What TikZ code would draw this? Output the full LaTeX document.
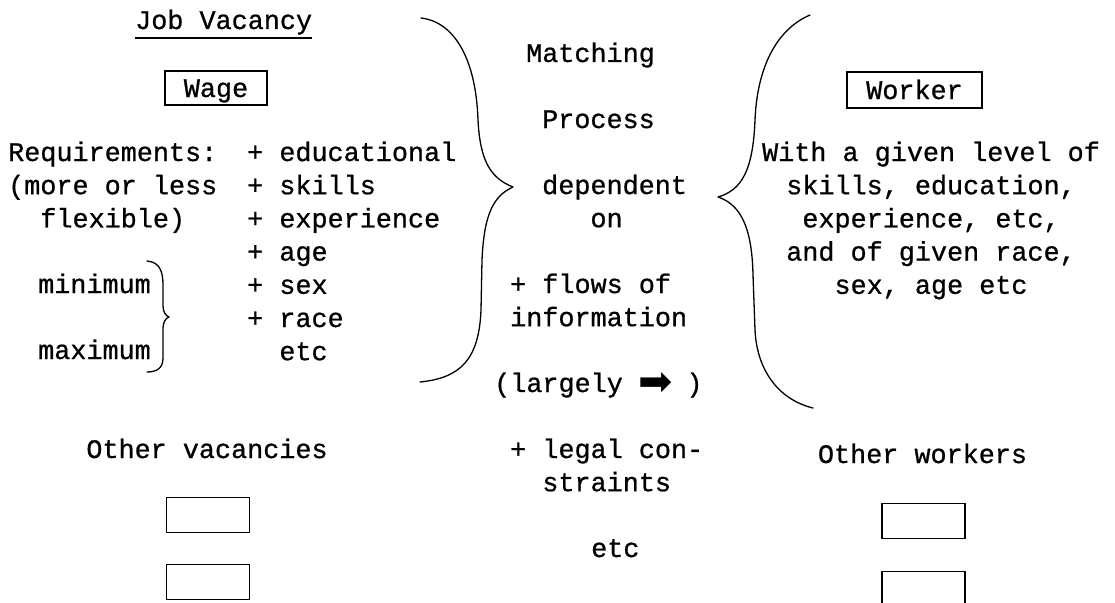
\documentclass[tikz,border=0pt]{standalone}
\usepackage{fontspec}
\setmainfont{Liberation Mono}[FakeBold=0.8]
\newfontfamily\arrowfont{DejaVu Sans}
\usetikzlibrary{positioning}

\begin{document}
\begin{tikzpicture}[
    x=1pt, y=-1pt,
    font=\fontsize{26.8}{33.2}\selectfont,
    txt/.style={inner sep=0pt, anchor=base west, align=left},
    ctxt/.style={inner sep=0pt, anchor=base, align=center},
    tag/.style={rectangle, draw=black, line width=1.3pt, inner sep=0pt, text height=18pt, text depth=0pt},
    blank/.style={rectangle, draw=black, line width=1.3pt, inner sep=0pt, minimum width=83pt, minimum height=35pt},
    brace/.style={line width=1.3pt, line cap=round, line join=round}
]
\clip (0,0) rectangle (1115,602);

% vacancy side (multi-line nodes sit on their last baseline)
\node[txt] (jobvac) at (135,29) {Job Vacancy};
\draw[line width=1.2pt] ([yshift=-9pt]jobvac.base west) -- ([yshift=-9pt]jobvac.base east);
\node[tag, minimum width=102pt, minimum height=34pt] (wage) at (216,88) {Wage};
\node[txt] (reqs) at (8,227.4) {Requirements:\\(more or less\\\phantom{xx}flexible)};
\node[txt] (items) at (247,360.2) {+ educational\\+ skills\\+ experience\\+ age\\+ sex\\+ race\\\phantom{+ }etc};
\node[txt] (minimum) at (38,293) {minimum};
\node[txt] (maximum) at (38,359) {maximum};
\draw[brace] (147,261) .. controls (160,262) and (163,272) .. (163,285) -- (163,306)
    .. controls (163,312) and (166,316) .. (169,317) .. controls (166,318) and (163,322) .. (163,328)
    -- (163,358) .. controls (163,368) and (157,372) .. (147,372);
\node[ctxt] (othervac) at (207,458) {Other vacancies};
\node[blank] (vac1) at (208,515) {};
\node[blank, below=31pt of vac1] (vac2) {};

% matching process
\draw[brace] (421,18) .. controls (455,22) and (476,60) .. (478,120)
    .. controls (480,160) and (490,178) .. (513,187) .. controls (493,196) and (484,215) .. (482,260)
    -- (481,310) .. controls (479,360) and (460,378) .. (420,382);
\node[txt] (matching) at (526,62) {Matching};
\node[txt] (process) at (542,128) {Process};
\node[txt] (depend) at (542,227.2) {dependent\\\phantom{dep}on};
\node[txt] (flows) at (510,326.2) {+ flows of\\information};
\node[txt] (largely) at (494,392) {(largely \raisebox{-3pt}{\arrowfont\fontsize{41}{41}\selectfont ➡}\kern-3pt{} )};
\node[txt] (legal) at (510,491.2) {+ legal con-\\\phantom{xx}straints};
\node[txt] (etc) at (591,557) {etc};
\draw[brace] (810,15) .. controls (775,30) and (757,70) .. (755,120)
    .. controls (753,170) and (742,190) .. (718,197) .. controls (742,205) and (752,230) .. (753,275)
    -- (755,330) .. controls (757,372) and (780,400) .. (813,408);

% worker side
\node[tag, minimum width=135pt, minimum height=36pt] (worker) at (914.5,90) {Worker};
\node[ctxt] (profile) at (931,293.8) {With a given level of\\skills, education,\\experience, etc,\\and of given race,\\sex, age etc};
\node[ctxt] (otherwork) at (922.5,463) {Other workers};
\node[blank] (work1) at (923.5,521) {};
\node[blank, below=32pt of work1] (work2) {};
\end{tikzpicture}
\end{document}
